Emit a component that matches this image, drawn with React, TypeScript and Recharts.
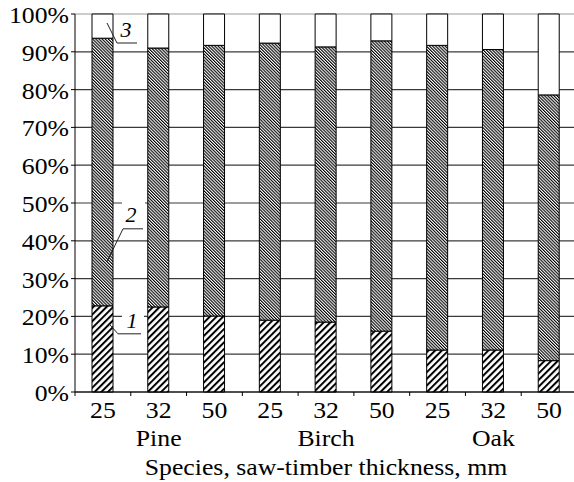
import React from 'react';
import { BarChart, Bar, XAxis, YAxis, CartesianGrid, LabelList, Label } from 'recharts';

const species = ['Pine', 'Birch', 'Oak'];
const thicknesses = ['25', '32', '50'];
const part1 = [22.8, 22.5, 20.1, 19.0, 18.5, 16.1, 11.1, 11.1, 8.3];
const part2 = [70.8, 68.5, 71.6, 73.3, 72.8, 76.8, 80.6, 79.5, 70.3];
const part3 = [6.4, 9.0, 8.3, 7.7, 8.7, 7.1, 8.3, 9.4, 21.4];
const yTicks = [0, 10, 20, 30, 40, 50, 60, 70, 80, 90, 100];
const seriesLabels = ['1', '2', '3'];
const axisTitle = 'Species, saw-timber thickness, mm';

const data = species.flatMap((sp, i) =>
  thicknesses.map((t, j) => {
    const k = i * thicknesses.length + j;
    return { id: `${sp} ${t}`, species: sp, thickness: t, p1: part1[k], p2: part2[k], p3: part3[k] };
  })
);

const FONT = '"Liberation Serif", "Times New Roman", Times, serif';
const SX = 1.12;

const YTick = (props: any) => {
  const { x, y, payload } = props;
  return (
    <g transform={`translate(${x},${y + 9}) scale(${SX},1)`}>
      <text x={0} y={0} textAnchor="end" fontFamily={FONT} fontSize={23} fill="#000">
        {`${payload.value}%`}
      </text>
    </g>
  );
};

const XTick = (props: any) => {
  const { x, y, payload, index, width, visibleTicksCount } = props;
  const half = payload && payload.offset > 0 ? payload.offset : width / visibleTicksCount / 2;
  const row = data[index];
  return (
    <g>
      <line x1={x - half} x2={x - half} y1={y} y2={y + 4} stroke="#000" strokeWidth={1} />
      {index === visibleTicksCount - 1 && (
        <line x1={x + half} x2={x + half} y1={y} y2={y + 4} stroke="#000" strokeWidth={1} />
      )}
      <g transform={`translate(${x},${y + 26}) scale(${SX},1)`}>
        <text x={0} y={0} textAnchor="middle" fontFamily={FONT} fontSize={23} fill="#000">
          {row ? row.thickness : ''}
        </text>
      </g>
      {index % 3 === 1 && row && (
        <g transform={`translate(${x},${y + 54}) scale(${SX},1)`}>
          <text x={0} y={0} textAnchor="middle" fontFamily={FONT} fontSize={23} fill="#000">
            {row.species}
          </text>
        </g>
      )}
    </g>
  );
};

const TitleLabel = (props: any) => {
  const vb = props.viewBox || {};
  const cx = vb.x + vb.width / 2;
  return (
    <g transform={`translate(${cx},${vb.y + 83}) scale(${SX},1)`}>
      <text x={0} y={0} textAnchor="middle" fontFamily={FONT} fontSize={23} fill="#000">
        {axisTitle}
      </text>
    </g>
  );
};

const labelText = (x: number, y: number, s: string) => (
  <text x={x} y={y} textAnchor="middle" fontFamily={FONT} fontStyle="italic" fontSize={22} fill="#000">
    {s}
  </text>
);

const Annot1 = (p: any) => {
  if (p.index !== 0) return null;
  const xr = p.x + p.width;
  const top = p.y;
  return (
    <g>
      <rect x={xr + 9} y={top + 2} width={22} height={23} fill="#fff" />
      <polyline points={`${xr - 4},${top + 18} ${xr + 5},${top + 28} ${xr + 28},${top + 28}`} fill="none" stroke="#222" strokeWidth={1} />
      {labelText(xr + 19, top + 22, seriesLabels[0])}
    </g>
  );
};

const Annot2 = (p: any) => {
  if (p.index !== 0) return null;
  const xr = p.x + p.width;
  const bottom = p.y + p.height;
  return (
    <g>
      <rect x={xr + 9} y={bottom - 107} width={23} height={26} fill="#fff" />
      <polyline points={`${xr + 30},${bottom - 77} ${xr + 10},${bottom - 77} ${xr - 6},${bottom - 44}`} fill="none" stroke="#222" strokeWidth={1} />
      {labelText(xr + 18, bottom - 84, seriesLabels[1])}
    </g>
  );
};

const Annot3 = (p: any) => {
  if (p.index !== 0) return null;
  const xr = p.x + p.width;
  const top = p.y;
  return (
    <g>
      <polyline points={`${xr - 6},${top + 9} ${xr + 4},${top + 29} ${xr + 24},${top + 29}`} fill="none" stroke="#222" strokeWidth={1} />
      {labelText(xr + 13, top + 23, seriesLabels[2])}
    </g>
  );
};

const GridLine = (props: any) => {
  const isTop = typeof props.y === 'number' ? Math.abs(props.y1 - props.y) < 0.5 : props.index === yTicks.length - 1;
  return (
    <line
      key={props.key}
      x1={props.x1}
      y1={props.y1}
      x2={props.x2}
      y2={props.y2}
      stroke={isTop ? '#9a9a9a' : '#3a3a3a'}
      strokeWidth={1.2}
    />
  );
};

export default function App() {
  return (
    <div style={{ position: 'absolute', left: 0, top: 0, width: 574, height: 482, overflow: 'hidden', background: '#fff' }}>
      <BarChart width={590} height={482} data={data} margin={{ top: 14, right: 13, left: 0, bottom: 0 }} barSize={21}>
        <defs>
          <pattern id="sparse" patternUnits="userSpaceOnUse" width={4.7} height={4.7} patternTransform="rotate(45)">
            <rect x={0} y={0} width={4.7} height={4.7} fill="#fff" />
            <rect x={0} y={0} width={2} height={4.7} fill="#000" />
          </pattern>
          <pattern id="dense" patternUnits="userSpaceOnUse" width={2.2} height={2.2} patternTransform="rotate(-45)">
            <rect x={0} y={0} width={2.2} height={2.2} fill="#fff" />
            <rect x={0} y={0} width={1.1} height={2.2} fill="#000" />
          </pattern>
        </defs>
        <CartesianGrid vertical={false} horizontal={GridLine} />
        <XAxis
          dataKey="id"
          height={90}
          interval={0}
          tickSize={0}
          tickMargin={0}
          tickLine={false}
          axisLine={{ stroke: '#000', strokeWidth: 1 }}
          tick={XTick}
        >
          <Label content={TitleLabel} position="bottom" />
        </XAxis>
        <YAxis
          width={75}
          domain={[0, 100]}
          ticks={yTicks}
          interval={0}
          tickSize={4}
          tickMargin={2}
          axisLine={{ stroke: '#000', strokeWidth: 1 }}
          tickLine={{ stroke: '#000', strokeWidth: 1 }}
          tick={YTick}
        />
        <Bar dataKey="p1" stackId="a" fill="url(#sparse)" stroke="#000" strokeWidth={1} isAnimationActive={false}>
          <LabelList dataKey="p1" content={Annot1} />
        </Bar>
        <Bar dataKey="p2" stackId="a" fill="url(#dense)" stroke="#000" strokeWidth={1} isAnimationActive={false}>
          <LabelList dataKey="p2" content={Annot2} />
        </Bar>
        <Bar dataKey="p3" stackId="a" fill="#fff" stroke="#000" strokeWidth={1} isAnimationActive={false}>
          <LabelList dataKey="p3" content={Annot3} />
        </Bar>
      </BarChart>
    </div>
  );
}
